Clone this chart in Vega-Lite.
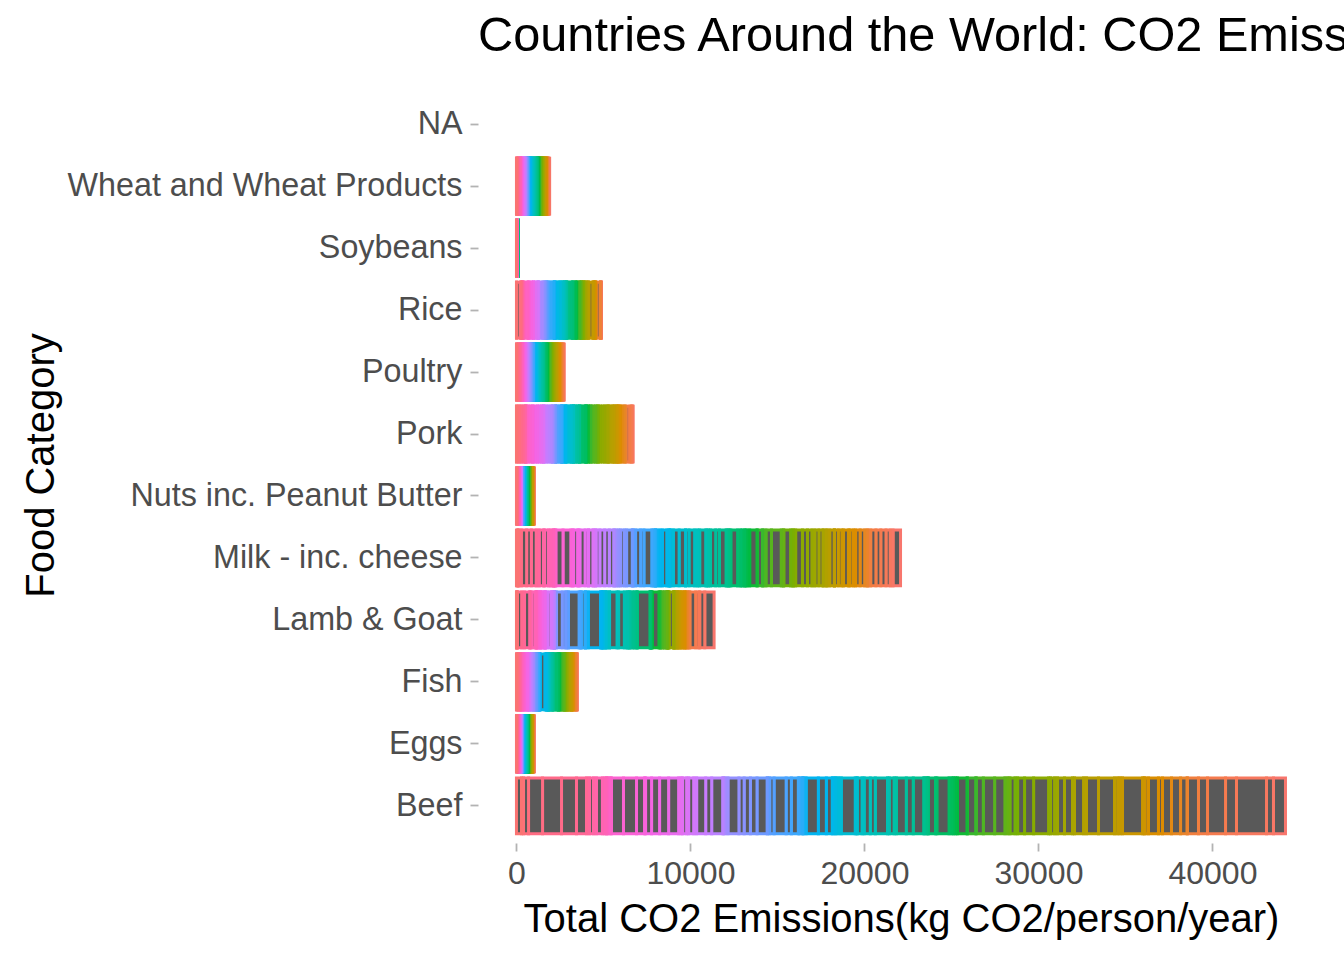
{
  "$schema": "https://vega.github.io/schema/vega-lite/v6.json",
  "autosize": {"type": "none"},
  "width": 846,
  "height": 756,
  "padding": {"left": 478, "top": 87, "right": 20, "bottom": 117},
  "background": "white",
  "title": {
    "text": "Countries Around the World: CO2 Emissions by Food Category",
    "anchor": "start",
    "frame": "group",
    "font": "Liberation Sans",
    "fontSize": 48.7,
    "fontWeight": "normal",
    "color": "#000000",
    "baseline": "alphabetic",
    "offset": -13
  },
  "data": {
    "values": [
      {"country": "Albania", "beef": 690, "eggs": 11.6, "fish": 5, "lamb": 536, "milk": 430, "nuts": 6.6, "pork": 35, "poultry": 12, "rice": 9, "soy": 0, "wheat": 28},
      {"country": "Algeria", "beef": 400, "eggs": 7.7, "fish": 8, "lamb": 290, "milk": 165, "nuts": 2.5, "pork": 0, "poultry": 8, "rice": 4, "soy": 0, "wheat": 31},
      {"country": "Argentina", "beef": 1725, "eggs": 10.5, "fish": 7, "lamb": 55, "milk": 240, "nuts": 0.9, "pork": 37, "poultry": 35, "rice": 11, "soy": 0, "wheat": 19.7},
      {"country": "Armenia", "beef": 630, "eggs": 10, "fish": 4, "lamb": 180, "milk": 300, "nuts": 5, "pork": 45, "poultry": 12, "rice": 6, "soy": 0, "wheat": 27},
      {"country": "Australia", "beef": 1035, "eggs": 8.3, "fish": 27, "lamb": 330, "milk": 280, "nuts": 20, "pork": 90, "poultry": 40, "rice": 15, "soy": 0, "wheat": 13},
      {"country": "Austria", "beef": 520, "eggs": 15, "fish": 21, "lamb": 45, "milk": 300, "nuts": 10, "pork": 200, "poultry": 15, "rice": 8, "soy": 0, "wheat": 15},
      {"country": "Bahamas", "beef": 630, "eggs": 10, "fish": 35, "lamb": 70, "milk": 165, "nuts": 6, "pork": 60, "poultry": 45, "rice": 30, "soy": 0, "wheat": 12},
      {"country": "Bangladesh", "beef": 30, "eggs": 3, "fish": 30, "lamb": 40, "milk": 30, "nuts": 1, "pork": 0, "poultry": 2, "rice": 220, "soy": 0, "wheat": 3.6},
      {"country": "Barbados", "beef": 370, "eggs": 5, "fish": 45, "lamb": 70, "milk": 150, "nuts": 8, "pork": 60, "poultry": 50, "rice": 20, "soy": 0, "wheat": 15},
      {"country": "Belarus", "beef": 520, "eggs": 16, "fish": 25, "lamb": 20, "milk": 265, "nuts": 3, "pork": 110, "poultry": 23, "rice": 6, "soy": 0, "wheat": 17},
      {"country": "Belgium", "beef": 520, "eggs": 11, "fish": 35, "lamb": 60, "milk": 255, "nuts": 28, "pork": 100, "poultry": 12, "rice": 8, "soy": 0, "wheat": 17},
      {"country": "Belize", "beef": 230, "eggs": 7, "fish": 12, "lamb": 3, "milk": 130, "nuts": 3, "pork": 40, "poultry": 38, "rice": 32, "soy": 0, "wheat": 15},
      {"country": "Bermuda", "beef": 575, "eggs": 6, "fish": 40, "lamb": 110, "milk": 205, "nuts": 25, "pork": 70, "poultry": 38, "rice": 25, "soy": 0, "wheat": 15},
      {"country": "Bolivia", "beef": 200, "eggs": 6, "fish": 4, "lamb": 45, "milk": 80, "nuts": 2, "pork": 30, "poultry": 33, "rice": 35, "soy": 0, "wheat": 10},
      {"country": "Bosnia and Herzegovina", "beef": 50, "eggs": 8, "fish": 8, "lamb": 60, "milk": 280, "nuts": 3, "pork": 45, "poultry": 12, "rice": 4, "soy": 0, "wheat": 30},
      {"country": "Botswana", "beef": 90, "eggs": 2, "fish": 5, "lamb": 70, "milk": 95, "nuts": 2, "pork": 5, "poultry": 7, "rice": 10, "soy": 0, "wheat": 14},
      {"country": "Brazil", "beef": 1150, "eggs": 7.4, "fish": 15, "lamb": 25, "milk": 205, "nuts": 2, "pork": 42, "poultry": 42, "rice": 45, "soy": 0, "wheat": 11},
      {"country": "Bulgaria", "beef": 150, "eggs": 8, "fish": 12, "lamb": 60, "milk": 220, "nuts": 6, "pork": 95, "poultry": 17, "rice": 8, "soy": 0, "wheat": 26},
      {"country": "Cambodia", "beef": 130, "eggs": 2, "fish": 40, "lamb": 0, "milk": 6, "nuts": 1, "pork": 40, "poultry": 2, "rice": 220, "soy": 0, "wheat": 2},
      {"country": "Cameroon", "beef": 180, "eggs": 1, "fish": 26, "lamb": 40, "milk": 12, "nuts": 25, "pork": 11, "poultry": 2, "rice": 28, "soy": 0, "wheat": 3},
      {"country": "Canada", "beef": 920, "eggs": 11.6, "fish": 35, "lamb": 30, "milk": 255, "nuts": 20, "pork": 80, "poultry": 34, "rice": 12, "soy": 0, "wheat": 15},
      {"country": "Chile", "beef": 690, "eggs": 7, "fish": 20, "lamb": 22, "milk": 165, "nuts": 6, "pork": 90, "poultry": 34, "rice": 13, "soy": 0, "wheat": 20},
      {"country": "China", "beef": 170, "eggs": 25, "fish": 50, "lamb": 95, "milk": 40, "nuts": 20, "pork": 110, "poultry": 12, "rice": 80, "soy": 1, "wheat": 12},
      {"country": "Colombia", "beef": 520, "eggs": 12, "fish": 13, "lamb": 4, "milk": 170, "nuts": 1, "pork": 35, "poultry": 28, "rice": 40, "soy": 0, "wheat": 8},
      {"country": "Congo", "beef": 115, "eggs": 0.5, "fish": 35, "lamb": 35, "milk": 20, "nuts": 4, "pork": 10, "poultry": 17, "rice": 15, "soy": 0, "wheat": 7},
      {"country": "Costa Rica", "beef": 460, "eggs": 9, "fish": 15, "lamb": 1, "milk": 230, "nuts": 2, "pork": 45, "poultry": 22, "rice": 50, "soy": 0, "wheat": 10},
      {"country": "Croatia", "beef": 400, "eggs": 8, "fish": 15, "lamb": 40, "milk": 230, "nuts": 6, "pork": 105, "poultry": 19, "rice": 6, "soy": 0, "wheat": 18},
      {"country": "Cuba", "beef": 170, "eggs": 8, "fish": 8, "lamb": 5, "milk": 170, "nuts": 1, "pork": 60, "poultry": 22, "rice": 55, "soy": 0, "wheat": 12},
      {"country": "Cyprus", "beef": 230, "eggs": 8, "fish": 35, "lamb": 250, "milk": 255, "nuts": 14, "pork": 110, "poultry": 26, "rice": 8, "soy": 0, "wheat": 14},
      {"country": "Czech Republic", "beef": 115, "eggs": 15, "fish": 15, "lamb": 4, "milk": 290, "nuts": 8, "pork": 120, "poultry": 23, "rice": 7, "soy": 0, "wheat": 17},
      {"country": "Denmark", "beef": 860, "eggs": 15, "fish": 35, "lamb": 45, "milk": 390, "nuts": 8, "pork": 115, "poultry": 21, "rice": 6, "soy": 0, "wheat": 14},
      {"country": "Ecuador", "beef": 520, "eggs": 6, "fish": 12, "lamb": 4, "milk": 120, "nuts": 1, "pork": 27, "poultry": 28, "rice": 50, "soy": 0, "wheat": 8},
      {"country": "Egypt", "beef": 400, "eggs": 3, "fish": 30, "lamb": 35, "milk": 50, "nuts": 2, "pork": 0, "poultry": 10, "rice": 50, "soy": 0, "wheat": 26},
      {"country": "El Salvador", "beef": 150, "eggs": 10, "fish": 8, "lamb": 1, "milk": 120, "nuts": 1, "pork": 20, "poultry": 23, "rice": 18, "soy": 0, "wheat": 9},
      {"country": "Estonia", "beef": 290, "eggs": 9, "fish": 20, "lamb": 20, "milk": 390, "nuts": 5, "pork": 100, "poultry": 19, "rice": 8, "soy": 0, "wheat": 16},
      {"country": "Ethiopia", "beef": 120, "eggs": 0.5, "fish": 0.2, "lamb": 40, "milk": 30, "nuts": 1, "pork": 0, "poultry": 1, "rice": 3, "soy": 0.3, "wheat": 7},
      {"country": "Fiji", "beef": 170, "eggs": 3, "fish": 35, "lamb": 110, "milk": 120, "nuts": 4, "pork": 25, "poultry": 30, "rice": 60, "soy": 0, "wheat": 15},
      {"country": "Finland", "beef": 590, "eggs": 9, "fish": 40, "lamb": 20, "milk": 560, "nuts": 6, "pork": 110, "poultry": 19, "rice": 6, "soy": 0, "wheat": 14},
      {"country": "France", "beef": 650, "eggs": 11, "fish": 45, "lamb": 100, "milk": 315, "nuts": 6, "pork": 100, "poultry": 24, "rice": 8, "soy": 0, "wheat": 20},
      {"country": "French Polynesia", "beef": 400, "eggs": 6, "fish": 45, "lamb": 80, "milk": 170, "nuts": 6, "pork": 70, "poultry": 50, "rice": 35, "soy": 0, "wheat": 15},
      {"country": "Gambia", "beef": 40, "eggs": 0.5, "fish": 35, "lamb": 40, "milk": 30, "nuts": 28, "pork": 1, "poultry": 5, "rice": 120, "soy": 0, "wheat": 6},
      {"country": "Germany", "beef": 470, "eggs": 11, "fish": 20, "lamb": 30, "milk": 305, "nuts": 10, "pork": 115, "poultry": 17, "rice": 6, "soy": 0.5, "wheat": 15},
      {"country": "Ghana", "beef": 30, "eggs": 1, "fish": 38, "lamb": 50, "milk": 10, "nuts": 16, "pork": 4, "poultry": 11, "rice": 40, "soy": 0.3, "wheat": 4},
      {"country": "Greece", "beef": 550, "eggs": 8, "fish": 30, "lamb": 380, "milk": 420, "nuts": 20, "pork": 100, "poultry": 17, "rice": 8, "soy": 0, "wheat": 25},
      {"country": "Grenada", "beef": 100, "eggs": 5, "fish": 35, "lamb": 60, "milk": 165, "nuts": 3, "pork": 45, "poultry": 50, "rice": 30, "soy": 0, "wheat": 18},
      {"country": "Guatemala", "beef": 120, "eggs": 9, "fish": 3, "lamb": 3, "milk": 105, "nuts": 1, "pork": 15, "poultry": 21, "rice": 10, "soy": 0.5, "wheat": 8},
      {"country": "Guinea", "beef": 90, "eggs": 0.5, "fish": 20, "lamb": 30, "milk": 20, "nuts": 20, "pork": 1, "poultry": 3, "rice": 110, "soy": 0, "wheat": 5},
      {"country": "Honduras", "beef": 170, "eggs": 8, "fish": 5, "lamb": 0.5, "milk": 155, "nuts": 1, "pork": 25, "poultry": 23, "rice": 15, "soy": 0, "wheat": 10},
      {"country": "Hong Kong SAR. China", "beef": 700, "eggs": 18, "fish": 80, "lamb": 40, "milk": 80, "nuts": 10, "pork": 150, "poultry": 65, "rice": 50, "soy": 2, "wheat": 10},
      {"country": "Hungary", "beef": 80, "eggs": 13, "fish": 8, "lamb": 5, "milk": 170, "nuts": 6, "pork": 110, "poultry": 26, "rice": 8, "soy": 0, "wheat": 18},
      {"country": "Iceland", "beef": 412, "eggs": 8, "fish": 145, "lamb": 720, "milk": 390, "nuts": 6, "pork": 75, "poultry": 25, "rice": 8, "soy": 0, "wheat": 14},
      {"country": "India", "beef": 25, "eggs": 2, "fish": 9, "lamb": 25, "milk": 105, "nuts": 4, "pork": 1, "poultry": 2, "rice": 80, "soy": 1, "wheat": 12},
      {"country": "Indonesia", "beef": 60, "eggs": 5, "fish": 38, "lamb": 15, "milk": 10, "nuts": 10, "pork": 6, "poultry": 7, "rice": 150, "soy": 25, "wheat": 4},
      {"country": "Iran", "beef": 120, "eggs": 12, "fish": 15, "lamb": 140, "milk": 105, "nuts": 22, "pork": 0, "poultry": 23, "rice": 45, "soy": 0.2, "wheat": 33},
      {"country": "Iraq", "beef": 60, "eggs": 4, "fish": 5, "lamb": 70, "milk": 55, "nuts": 3, "pork": 0, "poultry": 17, "rice": 50, "soy": 0, "wheat": 28},
      {"country": "Ireland", "beef": 600, "eggs": 7, "fish": 35, "lamb": 160, "milk": 380, "nuts": 6, "pork": 110, "poultry": 26, "rice": 6, "soy": 0, "wheat": 19},
      {"country": "Israel", "beef": 400, "eggs": 20, "fish": 35, "lamb": 30, "milk": 215, "nuts": 28, "pork": 7, "poultry": 60, "rice": 12, "soy": 0.5, "wheat": 23},
      {"country": "Italy", "beef": 570, "eggs": 11, "fish": 35, "lamb": 45, "milk": 300, "nuts": 10, "pork": 120, "poultry": 17, "rice": 8, "soy": 0, "wheat": 28},
      {"country": "Jamaica", "beef": 130, "eggs": 4, "fish": 35, "lamb": 90, "milk": 115, "nuts": 3, "pork": 20, "poultry": 45, "rice": 25, "soy": 0, "wheat": 16},
      {"country": "Japan", "beef": 280, "eggs": 22, "fish": 65, "lamb": 5, "milk": 90, "nuts": 4, "pork": 70, "poultry": 17, "rice": 55, "soy": 4, "wheat": 9},
      {"country": "Jordan", "beef": 100, "eggs": 8, "fish": 8, "lamb": 170, "milk": 70, "nuts": 8, "pork": 0.5, "poultry": 34, "rice": 30, "soy": 0, "wheat": 22},
      {"country": "Kazakhstan", "beef": 700, "eggs": 12, "fish": 5, "lamb": 330, "milk": 345, "nuts": 2, "pork": 20, "poultry": 15, "rice": 10, "soy": 0, "wheat": 34},
      {"country": "Kenya", "beef": 290, "eggs": 1, "fish": 5, "lamb": 90, "milk": 120, "nuts": 1, "pork": 2, "poultry": 1, "rice": 10, "soy": 0, "wheat": 7},
      {"country": "Kuwait", "beef": 350, "eggs": 14, "fish": 20, "lamb": 430, "milk": 170, "nuts": 10, "pork": 0, "poultry": 50, "rice": 55, "soy": 0, "wheat": 20},
      {"country": "Latvia", "beef": 120, "eggs": 13, "fish": 25, "lamb": 3, "milk": 325, "nuts": 3, "pork": 110, "poultry": 19, "rice": 7, "soy": 0, "wheat": 16},
      {"country": "Lebanon", "beef": 280, "eggs": 10, "fish": 15, "lamb": 180, "milk": 195, "nuts": 20, "pork": 2, "poultry": 30, "rice": 30, "soy": 0, "wheat": 24},
      {"country": "Liberia", "beef": 15, "eggs": 1, "fish": 7, "lamb": 10, "milk": 3, "nuts": 3, "pork": 15, "poultry": 5, "rice": 110, "soy": 0, "wheat": 4},
      {"country": "Lithuania", "beef": 100, "eggs": 13, "fish": 30, "lamb": 3, "milk": 370, "nuts": 4, "pork": 115, "poultry": 22, "rice": 6, "soy": 0, "wheat": 20},
      {"country": "Luxembourg", "beef": 800, "eggs": 11, "fish": 38, "lamb": 50, "milk": 330, "nuts": 17, "pork": 110, "poultry": 19, "rice": 8, "soy": 0, "wheat": 16},
      {"country": "Macedonia", "beef": 160, "eggs": 8, "fish": 8, "lamb": 110, "milk": 180, "nuts": 4, "pork": 65, "poultry": 17, "rice": 6, "soy": 0, "wheat": 27},
      {"country": "Madagascar", "beef": 160, "eggs": 0.5, "fish": 6, "lamb": 5, "milk": 15, "nuts": 2, "pork": 10, "poultry": 5, "rice": 140, "soy": 0, "wheat": 2},
      {"country": "Malawi", "beef": 20, "eggs": 1, "fish": 10, "lamb": 10, "milk": 8, "nuts": 8, "pork": 5, "poultry": 2, "rice": 10, "soy": 0.5, "wheat": 2},
      {"country": "Malaysia", "beef": 150, "eggs": 18, "fish": 70, "lamb": 45, "milk": 70, "nuts": 5, "pork": 30, "poultry": 42, "rice": 90, "soy": 1, "wheat": 9},
      {"country": "Maldives", "beef": 30, "eggs": 8, "fish": 260, "lamb": 40, "milk": 105, "nuts": 3, "pork": 0, "poultry": 23, "rice": 60, "soy": 0, "wheat": 14},
      {"country": "Malta", "beef": 340, "eggs": 9, "fish": 38, "lamb": 40, "milk": 255, "nuts": 10, "pork": 100, "poultry": 30, "rice": 7, "soy": 0, "wheat": 24},
      {"country": "Mexico", "beef": 460, "eggs": 20, "fish": 14, "lamb": 25, "milk": 140, "nuts": 3, "pork": 60, "poultry": 28, "rice": 10, "soy": 0.2, "wheat": 6},
      {"country": "Mongolia", "beef": 700, "eggs": 2, "fish": 1, "lamb": 700, "milk": 170, "nuts": 0.5, "pork": 10, "poultry": 3, "rice": 18, "soy": 0, "wheat": 27},
      {"country": "Morocco", "beef": 160, "eggs": 9, "fish": 20, "lamb": 160, "milk": 80, "nuts": 6, "pork": 0, "poultry": 16, "rice": 2, "soy": 0, "wheat": 37},
      {"country": "Mozambique", "beef": 30, "eggs": 1, "fish": 10, "lamb": 8, "milk": 8, "nuts": 10, "pork": 6, "poultry": 5, "rice": 25, "soy": 0, "wheat": 4},
      {"country": "Myanmar", "beef": 30, "eggs": 5, "fish": 35, "lamb": 12, "milk": 40, "nuts": 22, "pork": 40, "poultry": 12, "rice": 150, "soy": 1.5, "wheat": 1},
      {"country": "Namibia", "beef": 170, "eggs": 2, "fish": 20, "lamb": 200, "milk": 90, "nuts": 2, "pork": 20, "poultry": 13, "rice": 8, "soy": 0, "wheat": 10},
      {"country": "Nepal", "beef": 60, "eggs": 2, "fish": 3, "lamb": 40, "milk": 80, "nuts": 3, "pork": 5, "poultry": 3, "rice": 140, "soy": 2, "wheat": 7},
      {"country": "Netherlands", "beef": 400, "eggs": 16, "fish": 35, "lamb": 40, "milk": 450, "nuts": 18, "pork": 100, "poultry": 19, "rice": 7, "soy": 0, "wheat": 15},
      {"country": "New Caledonia", "beef": 300, "eggs": 7, "fish": 35, "lamb": 70, "milk": 190, "nuts": 4, "pork": 100, "poultry": 42, "rice": 50, "soy": 0, "wheat": 18},
      {"country": "New Zealand", "beef": 694, "eggs": 9, "fish": 30, "lamb": 620, "milk": 290, "nuts": 12, "pork": 90, "poultry": 34, "rice": 10, "soy": 0.2, "wheat": 14},
      {"country": "Nicaragua", "beef": 250, "eggs": 5, "fish": 4, "lamb": 1, "milk": 130, "nuts": 2, "pork": 15, "poultry": 21, "rice": 45, "soy": 0, "wheat": 9},
      {"country": "Niger", "beef": 120, "eggs": 0.5, "fish": 2, "lamb": 120, "milk": 55, "nuts": 20, "pork": 0.5, "poultry": 1, "rice": 20, "soy": 0, "wheat": 2},
      {"country": "Nigeria", "beef": 30, "eggs": 3, "fish": 20, "lamb": 35, "milk": 6, "nuts": 18, "pork": 8, "poultry": 2, "rice": 45, "soy": 1.5, "wheat": 5},
      {"country": "Norway", "beef": 580, "eggs": 10, "fish": 65, "lamb": 190, "milk": 325, "nuts": 8, "pork": 100, "poultry": 19, "rice": 8, "soy": 0, "wheat": 16},
      {"country": "Oman", "beef": 380, "eggs": 6, "fish": 40, "lamb": 330, "milk": 140, "nuts": 5, "pork": 0, "poultry": 38, "rice": 50, "soy": 0, "wheat": 18},
      {"country": "Pakistan", "beef": 360, "eggs": 2, "fish": 3, "lamb": 100, "milk": 215, "nuts": 1, "pork": 0, "poultry": 5, "rice": 20, "soy": 0, "wheat": 24},
      {"country": "Panama", "beef": 300, "eggs": 6, "fish": 25, "lamb": 1, "milk": 120, "nuts": 2, "pork": 60, "poultry": 36, "rice": 65, "soy": 0, "wheat": 10},
      {"country": "Paraguay", "beef": 630, "eggs": 10, "fish": 5, "lamb": 10, "milk": 130, "nuts": 1, "pork": 30, "poultry": 17, "rice": 15, "soy": 0.3, "wheat": 12},
      {"country": "Peru", "beef": 170, "eggs": 8, "fish": 35, "lamb": 30, "milk": 105, "nuts": 1, "pork": 20, "poultry": 34, "rice": 65, "soy": 0, "wheat": 12},
      {"country": "Philippines", "beef": 90, "eggs": 4, "fish": 45, "lamb": 3, "milk": 30, "nuts": 2, "pork": 60, "poultry": 11, "rice": 150, "soy": 0.3, "wheat": 5},
      {"country": "Poland", "beef": 45, "eggs": 10, "fish": 20, "lamb": 1, "milk": 255, "nuts": 5, "pork": 130, "poultry": 24, "rice": 5, "soy": 0, "wheat": 19},
      {"country": "Portugal", "beef": 630, "eggs": 8, "fish": 75, "lamb": 60, "milk": 265, "nuts": 6, "pork": 100, "poultry": 33, "rice": 20, "soy": 0, "wheat": 17},
      {"country": "Romania", "beef": 345, "eggs": 14, "fish": 10, "lamb": 50, "milk": 280, "nuts": 3, "pork": 100, "poultry": 21, "rice": 5, "soy": 0, "wheat": 29},
      {"country": "Russia", "beef": 520, "eggs": 15, "fish": 35, "lamb": 40, "milk": 215, "nuts": 3, "pork": 80, "poultry": 26, "rice": 8, "soy": 0, "wheat": 24},
      {"country": "Rwanda", "beef": 170, "eggs": 0.5, "fish": 5, "lamb": 15, "milk": 25, "nuts": 3, "pork": 5, "poultry": 1, "rice": 8, "soy": 0.3, "wheat": 4},
      {"country": "Saudi Arabia", "beef": 290, "eggs": 7, "fish": 15, "lamb": 190, "milk": 115, "nuts": 8, "pork": 0, "poultry": 36, "rice": 52, "soy": 0, "wheat": 19},
      {"country": "Senegal", "beef": 115, "eggs": 2, "fish": 35, "lamb": 130, "milk": 40, "nuts": 20, "pork": 1, "poultry": 5, "rice": 90, "soy": 0, "wheat": 13},
      {"country": "Serbia", "beef": 230, "eggs": 8, "fish": 8, "lamb": 20, "milk": 250, "nuts": 3, "pork": 110, "poultry": 12, "rice": 4, "soy": 0, "wheat": 22},
      {"country": "Sierra Leone", "beef": 80, "eggs": 1, "fish": 38, "lamb": 10, "milk": 5, "nuts": 20, "pork": 2, "poultry": 3, "rice": 110, "soy": 0, "wheat": 4},
      {"country": "Slovakia", "beef": 150, "eggs": 9, "fish": 8, "lamb": 2, "milk": 195, "nuts": 6, "pork": 115, "poultry": 21, "rice": 6, "soy": 0, "wheat": 21},
      {"country": "Slovenia", "beef": 575, "eggs": 10, "fish": 12, "lamb": 20, "milk": 300, "nuts": 6, "pork": 110, "poultry": 24, "rice": 6, "soy": 0, "wheat": 19},
      {"country": "South Africa", "beef": 520, "eggs": 6, "fish": 10, "lamb": 150, "milk": 80, "nuts": 3, "pork": 20, "poultry": 34, "rice": 18, "soy": 0.3, "wheat": 11},
      {"country": "South Korea", "beef": 460, "eggs": 10, "fish": 70, "lamb": 5, "milk": 50, "nuts": 5, "pork": 110, "poultry": 15, "rice": 80, "soy": 4, "wheat": 10},
      {"country": "Spain", "beef": 345, "eggs": 16, "fish": 50, "lamb": 90, "milk": 230, "nuts": 18, "pork": 150, "poultry": 28, "rice": 13, "soy": 0, "wheat": 17},
      {"country": "Sri Lanka", "beef": 60, "eggs": 3, "fish": 35, "lamb": 5, "milk": 60, "nuts": 8, "pork": 1, "poultry": 6, "rice": 140, "soy": 0.3, "wheat": 6},
      {"country": "Swaziland", "beef": 460, "eggs": 1, "fish": 2, "lamb": 40, "milk": 100, "nuts": 4, "pork": 10, "poultry": 17, "rice": 15, "soy": 0, "wheat": 8},
      {"country": "Sweden", "beef": 750, "eggs": 15, "fish": 40, "lamb": 70, "milk": 450, "nuts": 7, "pork": 130, "poultry": 17, "rice": 8, "soy": 0, "wheat": 14},
      {"country": "Switzerland", "beef": 690, "eggs": 9, "fish": 27, "lamb": 50, "milk": 410, "nuts": 10, "pork": 95, "poultry": 13, "rice": 9, "soy": 0.3, "wheat": 16},
      {"country": "Taiwan. ROC", "beef": 70, "eggs": 12, "fish": 45, "lamb": 35, "milk": 40, "nuts": 8, "pork": 110, "poultry": 28, "rice": 55, "soy": 40, "wheat": 8},
      {"country": "Tanzania", "beef": 130, "eggs": 0.5, "fish": 10, "lamb": 30, "milk": 60, "nuts": 3, "pork": 2, "poultry": 2, "rice": 30, "soy": 0, "wheat": 4},
      {"country": "Thailand", "beef": 60, "eggs": 10, "fish": 38, "lamb": 1, "milk": 30, "nuts": 3, "pork": 60, "poultry": 11, "rice": 150, "soy": 1, "wheat": 3},
      {"country": "Togo", "beef": 30, "eggs": 1, "fish": 15, "lamb": 30, "milk": 10, "nuts": 5, "pork": 8, "poultry": 5, "rice": 50, "soy": 0, "wheat": 5},
      {"country": "Trinidad and Tobago", "beef": 90, "eggs": 5, "fish": 30, "lamb": 40, "milk": 150, "nuts": 4, "pork": 25, "poultry": 45, "rice": 30, "soy": 0, "wheat": 17},
      {"country": "Tunisia", "beef": 140, "eggs": 10, "fish": 20, "lamb": 190, "milk": 140, "nuts": 8, "pork": 0, "poultry": 19, "rice": 2, "soy": 0, "wheat": 35},
      {"country": "Turkey", "beef": 345, "eggs": 10, "fish": 10, "lamb": 90, "milk": 220, "nuts": 30, "pork": 0, "poultry": 22, "rice": 12, "soy": 0, "wheat": 36},
      {"country": "Uganda", "beef": 170, "eggs": 1, "fish": 20, "lamb": 25, "milk": 60, "nuts": 5, "pork": 12, "poultry": 2, "rice": 10, "soy": 0, "wheat": 3},
      {"country": "Ukraine", "beef": 230, "eggs": 16, "fish": 20, "lamb": 10, "milk": 250, "nuts": 2, "pork": 80, "poultry": 22, "rice": 6, "soy": 0, "wheat": 23},
      {"country": "United Arab Emirates", "beef": 170, "eggs": 9, "fish": 35, "lamb": 300, "milk": 170, "nuts": 18, "pork": 0, "poultry": 34, "rice": 55, "soy": 0, "wheat": 18},
      {"country": "United Kingdom", "beef": 575, "eggs": 10, "fish": 30, "lamb": 160, "milk": 280, "nuts": 8, "pork": 90, "poultry": 29, "rice": 15, "soy": 0, "wheat": 19},
      {"country": "Uruguay", "beef": 860, "eggs": 9, "fish": 10, "lamb": 240, "milk": 270, "nuts": 2, "pork": 60, "poultry": 22, "rice": 15, "soy": 0, "wheat": 17},
      {"country": "USA", "beef": 1090, "eggs": 16, "fish": 35, "lamb": 30, "milk": 305, "nuts": 25, "pork": 97, "poultry": 45, "rice": 12, "soy": 0.3, "wheat": 15},
      {"country": "Venezuela", "beef": 805, "eggs": 6, "fish": 17, "lamb": 3, "milk": 170, "nuts": 1, "pork": 25, "poultry": 35, "rice": 30, "soy": 0, "wheat": 14},
      {"country": "Vietnam", "beef": 290, "eggs": 3, "fish": 38, "lamb": 4, "milk": 20, "nuts": 10, "pork": 120, "poultry": 11, "rice": 210, "soy": 3, "wheat": 4},
      {"country": "Zambia", "beef": 115, "eggs": 2, "fish": 15, "lamb": 8, "milk": 20, "nuts": 5, "pork": 6, "poultry": 5, "rice": 5, "soy": 1, "wheat": 4},
      {"country": "Zimbabwe", "beef": 290, "eggs": 2, "fish": 4, "lamb": 15, "milk": 70, "nuts": 5, "pork": 12, "poultry": 5, "rice": 5, "soy": 1, "wheat": 10}
    ]
  },
  "transform": [
    {"window": [{"op": "row_number", "as": "rank"}]},
    {"fold": ["beef", "eggs", "fish", "lamb", "milk", "nuts", "pork", "poultry", "rice", "soy", "wheat"], "as": ["food_key", "co2"]},
    {
      "lookup": "food_key",
      "from": {
        "data": {
          "values": [
            {"food_key": "beef", "food": "Beef"},
            {"food_key": "eggs", "food": "Eggs"},
            {"food_key": "fish", "food": "Fish"},
            {"food_key": "lamb", "food": "Lamb & Goat"},
            {"food_key": "milk", "food": "Milk - inc. cheese"},
            {"food_key": "nuts", "food": "Nuts inc. Peanut Butter"},
            {"food_key": "pork", "food": "Pork"},
            {"food_key": "poultry", "food": "Poultry"},
            {"food_key": "rice", "food": "Rice"},
            {"food_key": "soy", "food": "Soybeans"},
            {"food_key": "wheat", "food": "Wheat and Wheat Products"}
          ]
        },
        "key": "food_key",
        "fields": ["food"]
      }
    }
  ],
  "mark": {"type": "bar", "orient": "horizontal", "fill": "#595959", "strokeWidth": 3},
  "encoding": {
    "y": {
      "field": "food",
      "type": "nominal",
      "title": "Food Category",
      "scale": {
        "domain": ["NA", "Wheat and Wheat Products", "Soybeans", "Rice", "Poultry", "Pork", "Nuts inc. Peanut Butter", "Milk - inc. cheese", "Lamb & Goat", "Fish", "Eggs", "Beef"],
        "paddingInner": 0.1,
        "paddingOuter": 0.15
      },
      "axis": {
        "domain": false,
        "grid": false,
        "ticks": true,
        "tickSize": 8,
        "tickWidth": 1.8,
        "tickColor": "#B3B3B3",
        "labelFont": "Liberation Sans",
        "labelFontSize": 32.3,
        "labelColor": "#4D4D4D",
        "labelPadding": 8,
        "labelLimit": 1000,
        "titleFont": "Liberation Sans",
        "titleFontSize": 40,
        "titleFontWeight": "normal",
        "titleColor": "#000000",
        "titleAngle": -90,
        "titleBaseline": "alphabetic",
        "titleAlign": "center",
        "titleX": -425,
        "titleY": 378
      }
    },
    "x": {
      "field": "co2",
      "type": "quantitative",
      "stack": "zero",
      "title": "Total CO2 Emissions(kg CO2/person/year)",
      "scale": {"domain": [-2210, 46410], "nice": false, "zero": false},
      "axis": {
        "values": [0, 10000, 20000, 30000, 40000],
        "format": "d",
        "domain": false,
        "grid": false,
        "tickSize": 8,
        "tickWidth": 1.8,
        "tickColor": "#B3B3B3",
        "labelFont": "Liberation Sans",
        "labelFontSize": 32,
        "labelColor": "#4D4D4D",
        "labelPadding": 7,
        "titleFont": "Liberation Sans",
        "titleFontSize": 40,
        "titleFontWeight": "normal",
        "titleColor": "#000000",
        "titlePadding": 10
      }
    },
    "stroke": {
      "field": "rank",
      "type": "quantitative",
      "legend": null,
      "scale": {
        "domain": [1, 11.833, 22.667, 33.5, 44.333, 55.167, 66, 76.833, 87.667, 98.5, 109.333, 120.167, 131],
        "range": ["#F8766D", "#DE8C00", "#B79F00", "#7CAE00", "#00BA38", "#00C08B", "#00BFC4", "#00B4F0", "#619CFF", "#C77CFF", "#F564E3", "#FF64B0", "#F8766D"],
        "interpolate": "hcl"
      }
    },
    "order": {"field": "rank", "sort": "descending"},
    "detail": {"field": "country", "type": "nominal"}
  },
  "config": {
    "view": {"stroke": null},
    "font": "Liberation Sans"
  }
}
